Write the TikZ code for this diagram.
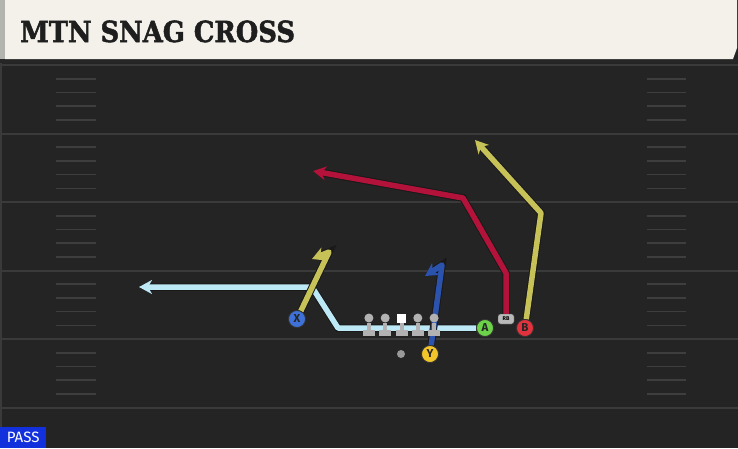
\documentclass[tikz,border=0pt]{standalone}
\usepackage{fontspec}
\setsansfont{Fira Sans}
\newfontfamily\titlefont{DejaVu Serif}[BoldFeatures={FakeBold=1.8}]
\usepackage{xcolor}
\usetikzlibrary{arrows.meta,positioning}
\definecolor{fieldbg}{HTML}{242424}
\definecolor{yardgrey}{HTML}{3A3A3A}
\definecolor{hashgrey}{HTML}{3E3E3E}
\definecolor{cream}{HTML}{F4F1EA}
\definecolor{stripgrey}{HTML}{B4B4AE}
\definecolor{titleink}{HTML}{1E1E1E}
\definecolor{olgrey}{HTML}{B2B2B2}
\definecolor{lightroute}{HTML}{BDE9F7}
\definecolor{oliveroute}{HTML}{C7C257}
\definecolor{blueroute}{HTML}{2B53AD}
\definecolor{redroute}{HTML}{B3123A}
\definecolor{xblue}{HTML}{3F72D8}
\definecolor{agreen}{HTML}{6CD24A}
\definecolor{bred}{HTML}{E2323E}
\definecolor{yyellow}{HTML}{F2C62A}
\definecolor{passblue}{HTML}{1230DC}
\pgfdeclarelayer{field}
\pgfdeclarelayer{routes}
\pgfsetlayers{field,routes,main}
\tikzset{%
	yardline/.style = {draw=yardgrey, line width=2pt},
	hashmark/.style = {draw=hashgrey, line width=1.6pt},
	player/.style   = {draw=black!80, circle, line width=0.8pt, minimum size=17pt, inner sep=0pt, font=\sffamily\bfseries\fontsize{11.5}{11.5}\selectfont, text=black!85}, % skill players
	lhead/.style    = {circle, fill=olgrey, minimum size=9pt, inner sep=0pt}, % lineman head
	snapbox/.style  = {rectangle, fill=white, minimum size=9pt, inner sep=0pt}, % center
	lbody/.style    = {rectangle, fill=olgrey, minimum width=12pt, minimum height=6pt, inner sep=0pt},
	stem/.style     = {draw=olgrey, line width=4pt},
	ball/.style     = {circle, fill=gray!80, minimum size=8pt, inner sep=0pt},
	rbtag/.style    = {draw=black!70, fill=gray!55, rounded corners=2.5pt, minimum width=16pt, minimum height=10pt, inner sep=0pt, font=\sffamily\bfseries\fontsize{5.5}{5.5}\selectfont},
	passtag/.style  = {fill=passblue, text=white, minimum width=46pt, minimum height=21pt, inner sep=0pt, font=\sffamily\fontsize{15}{15}\selectfont},
	route/.style    = {line width=5.5pt, line join=round, -{Stealth[length=13pt,width=14pt,inset=4pt]}, preaction={draw=black!90, line width=7.5pt}},
	waypoint/.style = {coordinate},
}
\begin{document}
\begin{tikzpicture}[x=1pt, y=-1pt, node distance=16.3pt]
	\useasboundingbox (0,0) rectangle (738,448);
	% field and title bar
	\begin{pgfonlayer}{field}
	\fill[fieldbg] (0,0) rectangle (738,448);
	\draw[yardgrey, line width=2pt] (1,63) -- (1,448);
	\foreach \yl in {65,133.5,202,270.5,339,407.5}
		\draw[yardline] (0,\yl) -- (738,\yl);
	\foreach \yl in {65,133.5,202,270.5,339}
		\foreach \k in {1,...,4} {
			\draw[hashmark] (56,\yl+\k*13.7) -- (96,\yl+\k*13.7);
			\draw[hashmark] (647,\yl+\k*13.7) -- (686,\yl+\k*13.7);
		}
	\fill[black!85] (0,59) rectangle (738,63);
	\fill[cream] (5,0) -- (737,0) -- (737,48) -- (733,59) -- (5,59) -- cycle;
	\fill[stripgrey] (0,0) rectangle (5,59);
	\end{pgfonlayer}
	\node[anchor=base west, inner sep=0pt, text=titleink, font=\titlefont\bfseries\fontsize{29}{30}\selectfont] (title) at (20,42) {\scalebox{0.89}[1]{MTN SNAG CROSS}};
	\node[passtag, anchor=south west] (pass) at (0,448) {PASS};
	% offensive line
	\node[snapbox] (c) at (401.5,318) {};
	\node[lhead, left of=c] (lg) {};
	\node[lhead, left of=lg] (lt) {};
	\node[lhead, right of=c] (rg) {};
	\node[lhead, right of=rg] (rt) {};
	\foreach \ol in {lt,lg,c,rg,rt} {
		\node[lbody, below of=\ol, node distance=15pt] (\ol b) {};
		\draw[stem] (\ol) -- (\ol b);
	}
	\node[ball] (qb) at (401,354) {};
	% skill players
	\node[player, fill=xblue] (x) at (297,319) {X};
	\node[player, fill=agreen] (a) at (485,328) {A};
	\node[player, fill=bred] (b) at (525,328) {B};
	\node[player, fill=yyellow] (y) at (430,354) {Y};
	\node[rbtag] (rb) at (506,319) {RB};
	% route points
	\node[waypoint] (acut) at (338,328) {};
	\node[waypoint] (abend) at (312,287) {};
	\node[waypoint] (aend) at (139,287) {};
	\node[waypoint] (xbreak) at (329,252) {};
	\node[waypoint] (xend) at (312,259) {};
	\node[waypoint] (ybreak) at (442,265) {};
	\node[waypoint] (yend) at (425,276) {};
	\node[waypoint] (rbup) at (506,273) {};
	\node[waypoint] (rbcut) at (463,198) {};
	\node[waypoint] (rbend) at (313,171) {};
	\node[waypoint] (bbreak) at (541,213) {};
	\node[waypoint] (bend) at (475,140) {};
	% routes
	\begin{pgfonlayer}{routes}
	\draw[route, lightroute] (a) -- (acut) -- (abend) -- (aend);
	\draw[route, oliveroute] (x) -- (xbreak) -- (xend);
	\draw[route, blueroute] (y) -- (ybreak) -- (yend);
	\draw[route, redroute] (rb) -- (rbup) -- (rbcut) -- (rbend);
	\draw[route, oliveroute] (b) -- (bbreak) -- (bend);
	\end{pgfonlayer}
\end{tikzpicture}
\end{document}
